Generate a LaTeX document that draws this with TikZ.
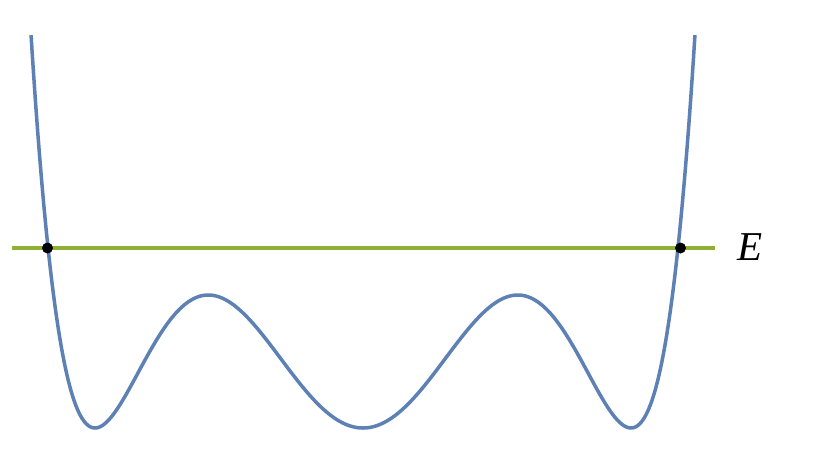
\documentclass[tikz,border=0pt]{standalone}
\usepackage{fontspec}
\setmainfont{Liberation Serif}
\definecolor{curveblue}{HTML}{5E81B5}
\definecolor{levelgreen}{HTML}{8FB032}
\begin{document}
\begin{tikzpicture}[x=1pt,y=-1pt,
  potential/.style={curveblue,line width=3.5pt,line join=round},
  level/.style={levelgreen,line width=3.5pt},
  turnpt/.style={circle,fill=black,inner sep=0pt,minimum size=11pt}]
\useasboundingbox[fill=white] (0,0) rectangle (830,451);
\begin{scope}
\clip (0,35) rectangle (830,451);
\draw[potential] plot[variable=\t,samples at={0,...,300},smooth]
  ({363+268*(-1.25+\t*0.008333)},
   {428-897.75*(-1.25+\t*0.008333)^2*((-1.25+\t*0.008333)^2-1)^2});
\end{scope}
\coordinate (lstart) at (12,248);
\coordinate (lend) at (715,248);
\draw[level] (lstart) -- (lend);
\node[turnpt] (tl) at (47.5,248) {};
\node[turnpt] (tr) at (680.5,248) {};
\node[font=\fontsize{41}{41}\selectfont\itshape] (E) at (750,247) {E};
\end{tikzpicture}
\end{document}
